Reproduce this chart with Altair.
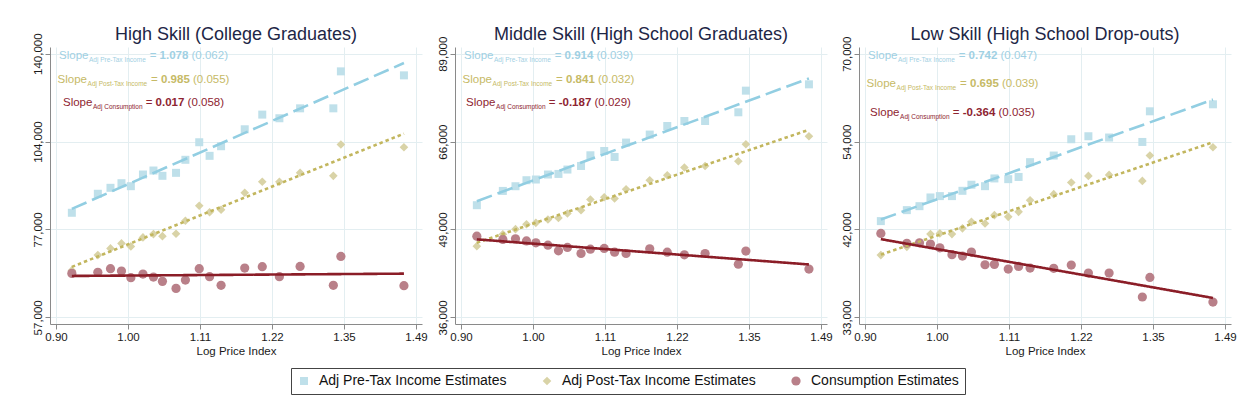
import math
import altair as alt
import pandas as pd

FONT = "Liberation Sans"

# ---- data -------------------------------------------------------------
price_index = [0.925, 0.959, 0.976, 0.991, 1.004, 1.021, 1.036, 1.049, 1.069, 1.083,
               1.104, 1.120, 1.138, 1.176, 1.205, 1.234, 1.270, 1.330, 1.344, 1.467]

panel_titles = ["High Skill (College Graduates)",
                "Middle Skill (High School Graduates)",
                "Low Skill (High School Drop-outs)"]

pre_tax = [
    [81400, 86850, 88630, 90030, 89120, 92740, 94010, 92330, 93270, 97510,
     103520, 98840, 102120, 108200, 113750, 112340, 116210, 116210, 131810, 130030],
    [52900, 55560, 56460, 57640, 57780, 58780, 58900, 59790, 60530, 62790,
     63720, 62430, 65590, 67420, 69430, 70640, 70640, 72780, 78390, 80110],
    [43420, 44800, 45310, 46450, 46630, 46630, 47340, 48170, 47970, 49040,
     48940, 49250, 51370, 52350, 54840, 55310, 55110, 54420, 59390, 60590],
]
post_tax = [
    [66890, 70470, 72090, 73330, 72590, 74840, 75690, 75160, 75780, 79210,
     83370, 81560, 82240, 87140, 90490, 90470, 93270, 92330, 102720, 101760],
    [45960, 47890, 48720, 49560, 49790, 50370, 50640, 51420, 52000, 53940,
     54370, 54130, 55880, 57640, 58630, 60210, 60530, 61520, 65210, 67030],
    [39410, 40350, 40820, 41840, 41920, 41840, 42530, 43330, 43130, 44160,
     43950, 44580, 46090, 46890, 48480, 49400, 49540, 48700, 52350, 53610],
]
consumption = [
    [66210, 66440, 67280, 66730, 65250, 66050, 65380, 64430, 62910, 64720,
     67280, 65470, 63560, 67420, 67740, 65470, 67800, 63560, 70150, 63490],
    [47570, 47030, 47130, 46800, 46490, 46120, 45230, 45760, 44820, 45490,
     45600, 45020, 44820, 45540, 45020, 44610, 44820, 43210, 45190, 42480],
    [41920, 40750, 40820, 40670, 40240, 39450, 39300, 39750, 38340, 38380,
     37870, 38160, 37980, 37950, 38300, 37440, 37440, 34970, 36980, 34470],
]

slopes = [[1.078, 0.914, 0.742], [0.985, 0.841, 0.695], [0.017, -0.187, -0.364]]
std_errors = [[0.062, 0.039, 0.047], [0.055, 0.032, 0.039], [0.058, 0.029, 0.035]]

y_tick_labels = [[57000, 77000, 104000, 140000],
                 [36000, 49000, 66000, 89000],
                 [33000, 42000, 54000, 70000]]
x_tick_logs = [-0.1, 0.0, 0.1, 0.2, 0.3, 0.4]

series_names = ["Adj Pre-Tax Income Estimates", "Adj Post-Tax Income Estimates",
                "Consumption Estimates"]
subscripts = ["Adj Pre-Tax Income", "Adj Post-Tax Income", "Adj Consumption"]

# ---- styling ----------------------------------------------------------
marker_colors = ["#bfe0ea", "#d9d3a7", "#b98089"]
marker_shapes = ["square", "diamond", "circle"]
marker_sizes = [64, 85, 56]
line_colors = ["#92cee2", "#c2b65e", "#8b1d27"]
line_dashes = [[16, 6], [3.5, 3], [1, 0]]
text_colors = ["#9fd0e3", "#c6ba66", "#8e2431"]
title_color = "#1d2646"

W, H = 372, 277
X_PAD = 0.0083           # log units beyond first/last tick
Y_PAD = 0.076            # fraction of a tick interval beyond first/last tick
MAIN_FS, SUB_FS, TITLE_FS = 11.5, 6.5, 18
label_rows = [[12.3, 36.3, 59.0], [12.3, 36.3, 59.0], [12.3, 40.3, 69.0]]
label_center = 93.5
title_baseline = -7.0

ARIAL = {' ': 278, '(': 333, ')': 333, '-': 333, '.': 278, ',': 278, '=': 584,
         'A': 667, 'C': 722, 'I': 278, 'P': 667, 'S': 667, 'T': 611, 'a': 556,
         'c': 500, 'd': 556, 'e': 556, 'i': 222, 'j': 222, 'l': 222, 'm': 833,
         'n': 556, 'o': 556, 'p': 556, 'r': 333, 's': 500, 't': 278, 'u': 556,
         'x': 500}


def text_width(s, size):
    return sum(ARIAL.get(ch, 556) for ch in s) * size / 1000.0


x_lo = math.exp(x_tick_logs[0] - X_PAD)
x_hi = math.exp(x_tick_logs[-1] + X_PAD)
x_scale = alt.Scale(type="log", domain=[x_lo, x_hi], nice=False, zero=False)
x_axis = alt.Axis(values=[math.exp(v) for v in x_tick_logs], format=".2f",
                  title="Log Price Index", labelFlush=False, labelOverlap=False)


def y_setup(ticks):
    lo, hi = ticks[0], ticks[-1]
    step = math.log(hi / lo) / (len(ticks) - 1)
    positions = [lo * math.exp(step * k) for k in range(len(ticks))]
    dom = [lo * math.exp(-step * Y_PAD), hi * math.exp(step * Y_PAD)]
    expr = "'{:,}'".format(ticks[-1])
    for k in reversed(range(len(ticks) - 1)):
        mid = lo * math.exp(step * (k + 0.5))
        expr = "datum.value < {:.1f} ? '{:,}' : ({})".format(mid, ticks[k], expr)
    scale = alt.Scale(type="log", domain=dom, nice=False, zero=False)
    axis = alt.Axis(values=positions, labelExpr=expr, title=None, labelAngle=270,
                    labelAlign="center", labelBaseline="bottom",
                    labelFlush=False, labelOverlap=False)
    return scale, axis, dom


def legend_spec():
    return alt.Legend(title=None, orient="none", legendX=241, legendY=321,
                      direction="horizontal", strokeColor="#444", fillColor="white",
                      padding=6, labelFontSize=14, labelFont=FONT, labelColor="#111",
                      columnPadding=33, labelOffset=8, symbolSize=70,
                      symbolStrokeWidth=0, symbolOpacity=1, labelLimit=400)


panels = []
for p in range(3):
    y_scale, y_axis, y_dom = y_setup(y_tick_labels[p])
    X = alt.X("x:Q", scale=x_scale, axis=x_axis)
    Y = alt.Y("y:Q", scale=y_scale, axis=y_axis)

    lxlo, lxhi = math.log(x_lo), math.log(x_hi)
    lylo, lyhi = math.log(y_dom[0]), math.log(y_dom[1])

    def to_data(px, py):
        return (math.exp(lxlo + px / W * (lxhi - lxlo)),
                math.exp(lyhi - py / H * (lyhi - lylo)))

    series_values = [pre_tax[p], post_tax[p], consumption[p]]
    pts = pd.DataFrame([
        {"x": price_index[j], "y": series_values[s][j], "series": series_names[s]}
        for s in range(3) for j in range(len(price_index))
    ])

    points = alt.Chart(pts).mark_point(filled=True, opacity=1, strokeWidth=0).encode(
        x=X, y=Y,
        color=alt.Color("series:N", scale=alt.Scale(domain=series_names, range=marker_colors),
                        legend=legend_spec()),
        shape=alt.Shape("series:N", scale=alt.Scale(domain=series_names, range=marker_shapes),
                        legend=legend_spec()),
        size=alt.Size("series:N", scale=alt.Scale(domain=series_names, range=marker_sizes),
                      legend=None),
    )

    layers = [points]
    # fitted log-log lines through the sample means with the reported slopes
    lx = [math.log(v) for v in price_index]
    mx = sum(lx) / len(lx)
    for s in range(3):
        ly = [math.log(v) for v in series_values[s]]
        my = sum(ly) / len(ly)
        b = slopes[s][p]
        ends = [min(price_index), max(price_index)]
        fit = pd.DataFrame({"x": ends,
                            "y": [math.exp(my + b * (math.log(e) - mx)) for e in ends]})
        layers.append(
            alt.Chart(fit).mark_line(color=line_colors[s], strokeWidth=2.6,
                                     strokeDash=line_dashes[s], strokeCap="butt")
            .encode(x=X, y=Y)
        )

    # panel heading, set just above the plot area
    tx, ty = to_data(W / 2, title_baseline)
    head = pd.DataFrame({"x": [tx], "y": [ty], "text": [panel_titles[p]]})
    layers.append(
        alt.Chart(head).mark_text(align="center", baseline="alphabetic", font=FONT,
                                  fontSize=TITLE_FS, color=title_color)
        .encode(x=X, y=Y, text="text:N")
    )

    # slope annotations
    rows = []
    for s in range(3):
        value = "{:.3f}".format(slopes[s][p])
        se = "({:.3f})".format(std_errors[s][p])
        sp = text_width(" ", MAIN_FS)
        segs = [("Slope", "main"), (subscripts[s], "sub"), ("=", "main"),
                (value, "bold"), (se, "main")]
        gaps = [0, 0.6, sp, sp, sp]
        widths = [text_width(t, SUB_FS if k == "sub" else MAIN_FS) for t, k in segs]
        total = sum(widths) + sum(gaps)
        cx = label_center - total / 2
        base = label_rows[p][s]
        for (t, kind), g, w in zip(segs, gaps, widths):
            cx += g
            px, py = cx, base + (2.5 if kind == "sub" else 0)
            dx, dy = to_data(px, py)
            rows.append({"x": dx, "y": dy, "text": t, "kind": kind, "s": s})
            cx += w
    ann = pd.DataFrame(rows)
    for s in range(3):
        for kind, fs, fw in [("main", MAIN_FS, "normal"), ("sub", SUB_FS, "normal"),
                             ("bold", MAIN_FS, "bold")]:
            sub = ann[(ann["s"] == s) & (ann["kind"] == kind)]
            layers.append(
                alt.Chart(sub).mark_text(align="left", baseline="alphabetic", font=FONT,
                                         fontSize=fs, fontWeight=fw, color=text_colors[s])
                .encode(x=X, y=Y, text="text:N")
            )

    panels.append(alt.layer(*layers).properties(width=W, height=H))

chart = (
    alt.hconcat(*panels, spacing=8)
    .properties(padding={"left": 31, "top": 25, "right": 4, "bottom": 4},
                background="white")
    .configure_view(stroke=None)
    .configure_axis(labelFont=FONT, labelFontSize=11.5, labelColor="#1a1a1a",
                    titleFont=FONT, titleFontSize=11.5, titleFontWeight="normal",
                    titleColor="#1a1a1a", titlePadding=3, labelPadding=2,
                    tickSize=5, tickColor="#8a8a8a", domainColor="#8a8a8a",
                    gridColor="#e3eef1", gridWidth=1)
)

chart.save("out.html", embed_options={"renderer": "svg", "actions": False})
